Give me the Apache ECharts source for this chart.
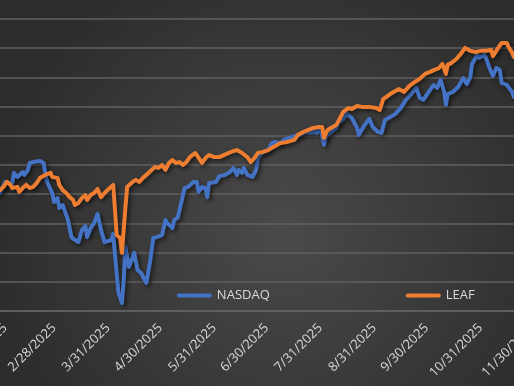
<!DOCTYPE html>
<html>
<head>
<meta charset="utf-8">
<script src="https://cdn.jsdelivr.net/npm/echarts@6/dist/echarts.min.js"></script>
<style>
html,body{margin:0;padding:0;background:#3a3a3a;overflow:hidden;width:514px;height:386px;position:relative;}
#chart{position:absolute;left:-46.87px;top:0;width:634.45px;height:386px;}
</style>
</head>
<body>
<div id="chart"></div>
<script>
const tickLabels = ['1/31/2025','2/28/2025','3/31/2025','4/30/2025','5/31/2025','6/30/2025','7/31/2025','8/31/2025','9/30/2025','10/31/2025','11/30/2025'];
const seriesNames = ['NASDAQ','LEAF'];

const nasdaqDates = ['2025-01-26','2025-01-28','2025-01-31','2025-02-04','2025-02-05','2025-02-07','2025-02-10','2025-02-11','2025-02-13','2025-02-14','2025-02-16','2025-02-20','2025-02-22','2025-02-23','2025-02-24','2025-02-27','2025-02-28','2025-03-02','2025-03-03','2025-03-05','2025-03-07','2025-03-08','2025-03-10','2025-03-12','2025-03-14','2025-03-16','2025-03-18','2025-03-19','2025-03-21','2025-03-23','2025-03-25','2025-03-27','2025-03-29','2025-04-02','2025-04-03','2025-04-04','2025-04-06','2025-04-07','2025-04-08','2025-04-09','2025-04-10','2025-04-11','2025-04-12','2025-04-14','2025-04-15','2025-04-17','2025-04-19','2025-04-22','2025-04-24','2025-04-26','2025-04-28','2025-05-01','2025-05-03','2025-05-04','2025-05-07','2025-05-08','2025-05-10','2025-05-12','2025-05-14','2025-05-16','2025-05-19','2025-05-21','2025-05-22','2025-05-24','2025-05-26','2025-05-27','2025-05-28','2025-06-01','2025-06-03','2025-06-06','2025-06-09','2025-06-11','2025-06-13','2025-06-14','2025-06-16','2025-06-17','2025-06-19','2025-06-22','2025-06-24','2025-06-25','2025-06-28','2025-07-01','2025-07-03','2025-07-05','2025-07-08','2025-07-10','2025-07-13','2025-07-16','2025-07-19','2025-07-22','2025-07-25','2025-07-27','2025-07-29','2025-07-31','2025-08-02','2025-08-03','2025-08-06','2025-08-09','2025-08-10','2025-08-13','2025-08-15','2025-08-18','2025-08-21','2025-08-22','2025-08-25','2025-08-28','2025-08-30','2025-09-02','2025-09-04','2025-09-06','2025-09-09','2025-09-12','2025-09-15','2025-09-18','2025-09-20','2025-09-22','2025-09-24','2025-09-26','2025-09-28','2025-09-30','2025-10-03','2025-10-04','2025-10-06','2025-10-08','2025-10-10','2025-10-11','2025-10-12','2025-10-15','2025-10-18','2025-10-21','2025-10-23','2025-10-25','2025-10-26','2025-10-29','2025-10-30','2025-11-02','2025-11-03','2025-11-05','2025-11-07','2025-11-09','2025-11-11','2025-11-12','2025-11-15','2025-11-18','2025-11-19'];
const nasdaqValues = [100.4,100.4,104.2,103.8,107.3,105.9,107.6,106.6,108.3,110.7,111.0,111.4,110.7,107.3,104.2,100.4,97.3,98.7,95.3,96.3,92.9,91.2,85.3,84.3,83.6,87.7,89.1,85.3,88.4,90.1,93.2,87.7,83.6,84.3,86.4,79.2,66.2,65.8,62.7,70.6,81.9,81.6,75.1,78.2,79.9,74.0,73.0,69.6,76.4,85.0,85.3,86.0,91.2,90.1,88.4,91.2,91.9,97.0,102.1,102.5,104.2,104.2,100.8,102.5,102.1,99.0,103.8,104.2,106.2,106.6,107.6,109.0,106.6,108.3,107.3,109.0,106.6,105.9,108.3,112.4,114.5,115.1,117.5,117.9,117.5,118.6,119.3,119.9,120.3,121.3,121.0,121.3,121.0,122.7,116.9,119.6,121.3,122.7,124.4,125.8,127.5,126.1,122.7,120.3,123.4,125.8,123.0,121.3,121.0,125.4,126.4,127.5,129.5,132.3,133.6,135.0,136.4,133.0,132.3,134.0,136.7,137.4,136.4,139.1,135.0,130.6,134.3,135.0,136.7,139.8,137.7,140.1,144.6,147.7,146.7,147.7,146.7,143.2,140.5,143.2,142.5,138.1,137.4,135.0,133.3];

const leafDates = ['2025-01-26','2025-01-28','2025-01-30','2025-02-01','2025-02-03','2025-02-04','2025-02-07','2025-02-08','2025-02-10','2025-02-12','2025-02-14','2025-02-16','2025-02-18','2025-02-20','2025-02-23','2025-02-26','2025-02-27','2025-03-02','2025-03-03','2025-03-05','2025-03-07','2025-03-09','2025-03-11','2025-03-12','2025-03-14','2025-03-16','2025-03-18','2025-03-19','2025-03-21','2025-03-23','2025-03-25','2025-03-27','2025-03-29','2025-04-01','2025-04-03','2025-04-04','2025-04-05','2025-04-07','2025-04-08','2025-04-10','2025-04-11','2025-04-12','2025-04-14','2025-04-16','2025-04-18','2025-04-20','2025-04-22','2025-04-25','2025-04-27','2025-04-29','2025-05-01','2025-05-03','2025-05-05','2025-05-07','2025-05-09','2025-05-11','2025-05-13','2025-05-15','2025-05-17','2025-05-20','2025-05-21','2025-05-24','2025-05-26','2025-05-28','2025-05-31','2025-06-03','2025-06-07','2025-06-11','2025-06-13','2025-06-16','2025-06-19','2025-06-21','2025-06-23','2025-06-25','2025-06-28','2025-07-01','2025-07-04','2025-07-08','2025-07-12','2025-07-16','2025-07-18','2025-07-21','2025-07-24','2025-07-27','2025-07-30','2025-08-01','2025-08-02','2025-08-04','2025-08-06','2025-08-09','2025-08-10','2025-08-13','2025-08-16','2025-08-18','2025-08-21','2025-08-24','2025-08-28','2025-09-01','2025-09-03','2025-09-05','2025-09-09','2025-09-11','2025-09-14','2025-09-17','2025-09-20','2025-09-23','2025-09-26','2025-09-29','2025-10-02','2025-10-04','2025-10-07','2025-10-09','2025-10-11','2025-10-12','2025-10-14','2025-10-17','2025-10-20','2025-10-22','2025-10-25','2025-10-28','2025-10-31','2025-11-03','2025-11-06','2025-11-07','2025-11-10','2025-11-12','2025-11-15','2025-11-16','2025-11-18','2025-11-19'];
const leafValues = [101.4,101.4,102.5,104.2,103.2,102.1,102.5,100.8,102.1,103.2,102.1,102.5,103.8,105.6,106.6,107.3,105.9,105.6,103.2,101.4,100.4,99.0,98.0,96.3,97.0,98.7,99.7,98.0,99.7,100.4,101.8,99.0,100.4,102.1,103.2,94.6,86.0,85.0,79.9,95.6,102.5,102.1,104.2,104.9,104.2,105.6,106.6,108.3,109.3,109.0,110.0,108.3,110.7,111.7,110.7,111.0,110.0,111.0,112.7,114.1,113.4,110.7,112.4,113.4,112.7,112.7,113.8,114.8,115.1,114.1,112.7,111.0,112.4,114.1,114.5,115.1,116.2,117.5,117.9,118.6,120.3,121.3,122.0,122.7,123.0,123.0,119.3,122.0,122.7,123.7,124.7,128.2,129.5,129.2,130.2,129.9,129.9,129.5,128.8,132.6,134.3,135.0,136.0,135.0,137.1,138.4,139.5,141.2,141.9,142.5,143.2,144.6,141.2,144.3,144.9,146.3,148.4,150.1,149.1,148.7,149.1,149.1,149.4,147.3,150.1,151.8,151.8,150.4,148.4,147.0];

function parseTick(s){ const p = s.split('/'); return new Date(+p[2], +p[0]-1, +p[1]).getTime(); }
function parseIso(s){ const p = s.split('-'); return new Date(+p[0], +p[1]-1, +p[2]).getTime(); }
const tickValues = tickLabels.map(parseTick);
const tickMap = {};
tickValues.forEach((t,i)=>{ tickMap[t] = tickLabels[i]; });
function pairs(d, v){ return d.map((s,i)=>[parseIso(s), v[i]]); }

const chart = echarts.init(document.getElementById('chart'), null, {renderer:'canvas'});
const shadow = {shadowColor:'rgba(0,0,0,0.6)', shadowBlur:4, shadowOffsetX:2, shadowOffsetY:2};
chart.setOption({
  animation:false,
  backgroundColor:{type:'radial', x:0.52, y:0.6, r:0.75, colorStops:[{offset:0,color:'#4a4a4a'},{offset:1,color:'#2d2d2d'}]},
  grid:{left:0, right:0, top:19, bottom:75, containLabel:false},
  legend:{
    data:seriesNames, left:172+46.87, top:284, itemWidth:35, itemHeight:4, itemGap:136,
    icon:'path://M2,0 L33,0 A2,2 0 0 1 33,4 L2,4 A2,2 0 0 1 2,0 Z',
    textStyle:{color:'#d9d9d9', fontSize:13, fontFamily:'Open Sans'}
  },
  xAxis:{
    type:'value', scale:true,
    min:new Date(2025,0,1).getTime(), max:new Date(2025,11,31).getTime(),
    axisLine:{show:true, onZero:false, lineStyle:{color:'#626262', width:1.5}},
    axisTick:{show:false},
    splitLine:{show:false},
    axisLabel:{customValues:tickValues, rotate:45, margin:15, color:'#d9d9d9', fontSize:13, fontFamily:'Open Sans',
      formatter:function(v){ return tickMap[v] || ''; }}
  },
  yAxis:{
    type:'value', min:60, max:160, interval:10,
    axisLine:{show:false}, axisTick:{show:false}, axisLabel:{show:false},
    splitLine:{show:true, lineStyle:{color:'#606060', width:1.5}}
  },
  series:[
    {name:seriesNames[0], type:'line', data:pairs(nasdaqDates,nasdaqValues), showSymbol:false, symbol:'none', color:'#4472C4',
      lineStyle:Object.assign({width:4, color:'#4472C4', cap:'round', join:'round'}, shadow)},
    {name:seriesNames[1], type:'line', data:pairs(leafDates,leafValues), showSymbol:false, symbol:'none', color:'#ED7D31',
      lineStyle:Object.assign({width:4, color:'#ED7D31', cap:'round', join:'round'}, shadow)}
  ]
});
</script>
</body>
</html>
